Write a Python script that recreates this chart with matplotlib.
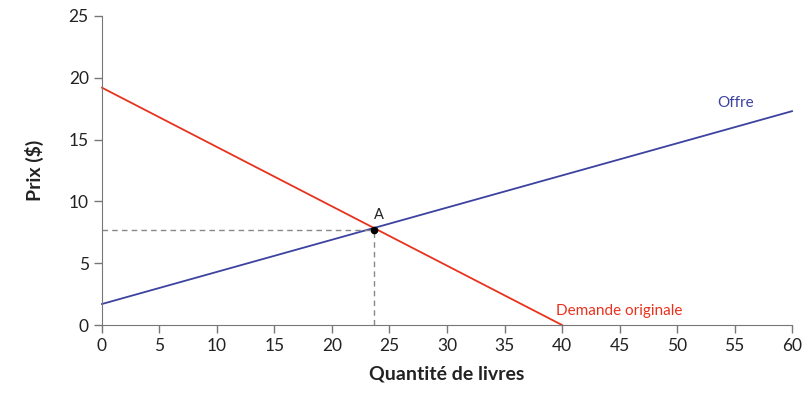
import matplotlib
matplotlib.use("Agg")
import matplotlib.pyplot as plt

supply_x = [0, 60]
supply_y = [1.7, 17.3]
demand_x = [0, 40]
demand_y = [19.2, 0]
point_a = (23.65, 7.7)
xticks = list(range(0, 61, 5))
yticks = list(range(0, 26, 5))

plt.rcParams['font.family'] = ['Lato', 'DejaVu Sans']
fig = plt.figure(figsize=(8.1, 3.94), dpi=100)
ax = fig.add_axes([0.1259, 0.1751, 0.8519, 0.7843])

red = '#e8321e'
blue = '#3c42a0'
ax.plot(supply_x, supply_y, color=blue, lw=1.3, clip_on=False)
ax.plot(demand_x, demand_y, color=red, lw=1.3, clip_on=False)
ax.plot([0, point_a[0]], [point_a[1], point_a[1]], ls=(0, (4, 3)), color='#888888', lw=1)
ax.plot([point_a[0], point_a[0]], [0, point_a[1]], ls=(0, (4, 3)), color='#888888', lw=1)
ax.plot([point_a[0]], [point_a[1]], 'o', color='black', ms=4.5, zorder=5)
ax.text(point_a[0] + 0.4, point_a[1] + 0.6, 'A', fontsize=10.5, color='#222222', ha='center', va='bottom')
ax.text(53.5, 17.4, 'Offre', color=blue, fontsize=11, ha='left', va='bottom')
ax.text(39.5, 0.6, 'Demande originale', color=red, fontsize=11, ha='left', va='bottom')

ax.set_xlim(0, 60)
ax.set_ylim(0, 25)
ax.set_xticks(xticks)
ax.set_yticks(yticks)
for s in ['top', 'right']:
    ax.spines[s].set_visible(False)
for s in ['left', 'bottom']:
    ax.spines[s].set_color('#777777')
ax.tick_params(colors='#777777', labelcolor='#222222', labelsize=12.5, length=6, width=1)
ax.set_xlabel('Quantité de livres', fontsize=14, fontweight='bold', color='#222222', labelpad=8)
ax.set_ylabel('Prix ($)', fontsize=14, fontweight='bold', color='#222222', labelpad=18)

fig.savefig('out.png', dpi=100)
